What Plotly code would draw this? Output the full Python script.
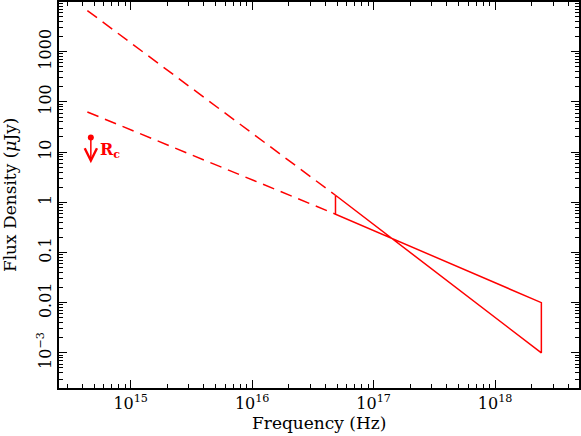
import numpy as np
import plotly.graph_objects as go

# dashed extrapolations into the optical
nu_extrap = [4.4e14, 4.85e16]
steep_extrap = [6600, 1.38]
shallow_extrap = [63, 0.58]

# X-ray bow-tie (frequency, flux at each end)
nu_xray = [4.85e16, 2.4e18]
steep_xray = [1.38, 0.001]
shallow_xray = [0.58, 0.01]

# R-band upper limit
nu_rc = 4.7e14
rc_limit = 19.6
rc_arrow_end = 6.0

y_ticks = [1e-3, 0.01, 0.1, 1, 10, 100, 1000]
y_ticktext = ["10<sup>\u22123</sup>", "0.01", "0.1", "1", "10", "100", "1000"]
x_ticks = [1e15, 1e16, 1e17, 1e18]
x_ticktext = ["10<sup>15</sup>", "10<sup>16</sup>", "10<sup>17</sup>", "10<sup>18</sup>"]

red = "#ff0000"
font = "DejaVu Serif"

fig = go.Figure()

fig.add_trace(go.Scatter(x=nu_extrap, y=steep_extrap, mode="lines",
                         line=dict(color=red, width=1.5, dash="12px,7px")))
fig.add_trace(go.Scatter(x=nu_extrap, y=shallow_extrap, mode="lines",
                         line=dict(color=red, width=1.5, dash="12px,7px")))

bx = [nu_xray[0], nu_xray[1], nu_xray[1], nu_xray[0], nu_xray[0]]
by = [steep_xray[0], steep_xray[1], shallow_xray[1], shallow_xray[0], steep_xray[0]]
fig.add_trace(go.Scatter(x=bx, y=by, mode="lines", line=dict(color=red, width=1.5)))

fig.add_trace(go.Scatter(x=[nu_rc], y=[rc_limit], mode="markers",
                         marker=dict(color=red, size=6)))
fig.add_annotation(x=np.log10(nu_rc), y=np.log10(rc_arrow_end),
                   ax=np.log10(nu_rc), ay=np.log10(rc_limit),
                   xref="x", yref="y", axref="x", ayref="y",
                   showarrow=True, arrowhead=5, arrowsize=1.6, arrowwidth=1.5,
                   arrowcolor=red, text="")
fig.add_annotation(x=np.log10(nu_rc), y=np.log10(np.sqrt(rc_limit * rc_arrow_end)),
                   xref="x", yref="y", text="<b>R<sub>c</sub></b>", showarrow=False,
                   xanchor="left", xshift=7, font=dict(color=red, size=16, family=font))

axis_common = dict(
    type="log", showgrid=False, zeroline=False, showline=True, linecolor="black",
    linewidth=1.5, mirror="allticks", ticks="inside", ticklen=8, tickwidth=1.2,
    tickcolor="black", automargin=False,
    minor=dict(ticks="inside", ticklen=4, tickwidth=1, tickcolor="black",
               showgrid=False, dtick="D1"),
    tickfont=dict(family=font, size=16, color="black"),
)

fig.update_xaxes(**axis_common, range=[14.41, 18.69], tickvals=x_ticks,
                 ticktext=x_ticktext)
fig.update_yaxes(**axis_common, range=[-3.70, 3.99], tickvals=y_ticks,
                 ticktext=y_ticktext, tickangle=-90)

fig.add_annotation(text="Frequency (Hz)", xref="paper", yref="paper",
                   x=0.5, y=-0.09, yanchor="middle", showarrow=False,
                   font=dict(family=font, size=17, color="black"))
fig.add_annotation(text="Flux Density (<i>\u03bc</i>Jy)", xref="paper", yref="paper",
                   x=-0.094, y=0.5, textangle=-90, xanchor="center", showarrow=False,
                   font=dict(family=font, size=17, color="black"))

fig.update_layout(
    width=581, height=436, showlegend=False,
    margin=dict(l=59, r=2, t=2, b=48),
    plot_bgcolor="white", paper_bgcolor="white",
)

fig.write_html("out.html", config={"displayModeBar": False},
               post_script="document.body.style.margin='0';")
